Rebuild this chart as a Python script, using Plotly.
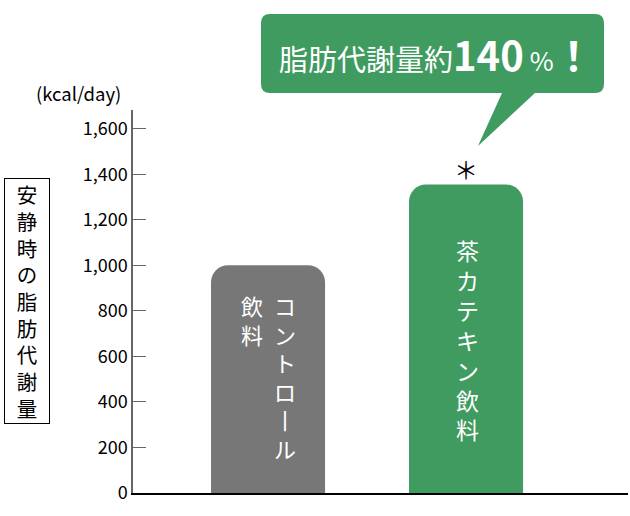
import plotly.graph_objects as go

# resting fat metabolism (kcal/day)
categories = ["コントロール飲料", "茶カテキン飲料"]
values = [1000, 1355]
bar_colors = ["#777777", "#3f9b5f"]
bar_labels = [["コ<br>ン<br>ト<br>ロ<br>丨<br>ル", "飲<br>料"], ["茶<br>カ<br>テ<br>キ<br>ン<br>飲<br>料"]]
y_ticks = [0, 200, 400, 600, 800, 1000, 1200, 1400, 1600]
y_title = "安静時の脂肪代謝量"
unit = "(kcal/day)"

FONT = "Noto Sans CJK JP"
W, H = 630, 516
L, R, T, B = 133, 2, 110, 23
GREEN = "#3f9b5f"


def px(x, y):
    # pixel -> paper coords
    return (x - L) / (W - L - R), (H - B - y) / (H - T - B)


fig = go.Figure()
fig.add_trace(go.Bar(x=categories, y=values, marker_color=bar_colors,
                     marker_line_width=0, marker_cornerradius=17, width=0.576,
                     hoverinfo="skip"))

# text inside bars
fig.add_annotation(x=categories[0], y=values[0], text=bar_labels[0][0], xshift=17, yshift=-22,
                   yanchor="top", showarrow=False, font=dict(family=FONT, size=22, color="white"))
fig.add_annotation(x=categories[0], y=values[0], text=bar_labels[0][1], xshift=-16, yshift=-22,
                   yanchor="top", showarrow=False, font=dict(family=FONT, size=22, color="white"))
fig.add_annotation(x=categories[1], y=values[1], text=bar_labels[1][0], xshift=1, yshift=-47,
                   yanchor="top", showarrow=False, font=dict(family=FONT, size=23, color="white"))
# significance mark
fig.add_annotation(x=categories[1], y=values[1], text="＊", yshift=-4, yanchor="bottom",
                   showarrow=False, font=dict(family=FONT, size=24, color="black"))

# speech bubble
def rrect(x0, y0, x1, y1, r):
    pts = []
    a = px(x0 + r, y0); pts.append("M%f,%f" % a)
    b = px(x1 - r, y0); pts.append("L%f,%f" % b)
    c = px(x1, y0); d = px(x1, y0 + r); pts.append("Q%f,%f %f,%f" % (*c, *d))
    e = px(x1, y1 - r); pts.append("L%f,%f" % e)
    f = px(x1, y1); g = px(x1 - r, y1); pts.append("Q%f,%f %f,%f" % (*f, *g))
    # tail
    pts.append("L%f,%f" % px(535, y1))
    pts.append("L%f,%f" % px(478, 146))
    pts.append("L%f,%f" % px(502, y1))
    h = px(x0 + r, y1); pts.append("L%f,%f" % h)
    i = px(x0, y1); j = px(x0, y1 - r); pts.append("Q%f,%f %f,%f" % (*i, *j))
    k = px(x0, y0 + r); pts.append("L%f,%f" % k)
    m = px(x0, y0); pts.append("Q%f,%f %f,%f" % (*m, *a))
    return " ".join(pts) + " Z"


fig.add_shape(type="path", xref="paper", yref="paper", path=rrect(261, 14, 604, 93, 9),
              fillcolor=GREEN, line_width=0, layer="below")
bx, by = px(436, 54)
fig.add_annotation(xref="paper", yref="paper", x=bx, y=by, xanchor="center", yanchor="middle",
                   showarrow=False,
                   text="脂肪代謝量約<b><span style='font-size:40px'>140</span></b>"
                        "<span style='font-size:26px'> %</span><b><span style='font-size:40px'>！</span></b>",
                   font=dict(family=FONT, size=29, color="white"))

# unit label
ux, uy = px(78, 93)
fig.add_annotation(xref="paper", yref="paper", x=ux, y=uy, xanchor="center", yanchor="middle",
                   text=unit, showarrow=False, font=dict(family=FONT, size=18.5, color="black"))

# boxed vertical y title
tx, ty = px(26.5, 301)
fig.add_annotation(xref="paper", yref="paper", x=tx, y=ty, xanchor="center", yanchor="middle",
                   text="<br>".join(y_title),
                   showarrow=False, width=44, height=244, bordercolor="black", borderwidth=1,
                   borderpad=0, bgcolor="white", font=dict(family=FONT, size=20.5, color="black"))

fig.update_layout(
    width=W, height=H, margin=dict(l=L, r=R, t=T, b=B),
    plot_bgcolor="white", paper_bgcolor="white", showlegend=False,
    font=dict(family=FONT, color="black"),
    xaxis=dict(range=[-0.682, 1.818], showticklabels=False, ticks="", showgrid=False,
               zeroline=False, showline=True, linecolor="black", linewidth=1.5),
    yaxis=dict(range=[0, 1682], tickvals=y_ticks, tickformat=",d", ticks="inside",
               ticklen=13, tickwidth=1.3, tickcolor="#666666", showgrid=False, zeroline=False,
               showline=True, linecolor="#666666", linewidth=1.5,
               tickfont=dict(family=FONT, size=18, color="black")),
)

fig.write_html("out.html", config={"displayModeBar": False},
               post_script="document.body.style.margin='0';document.body.style.overflow='hidden';")
